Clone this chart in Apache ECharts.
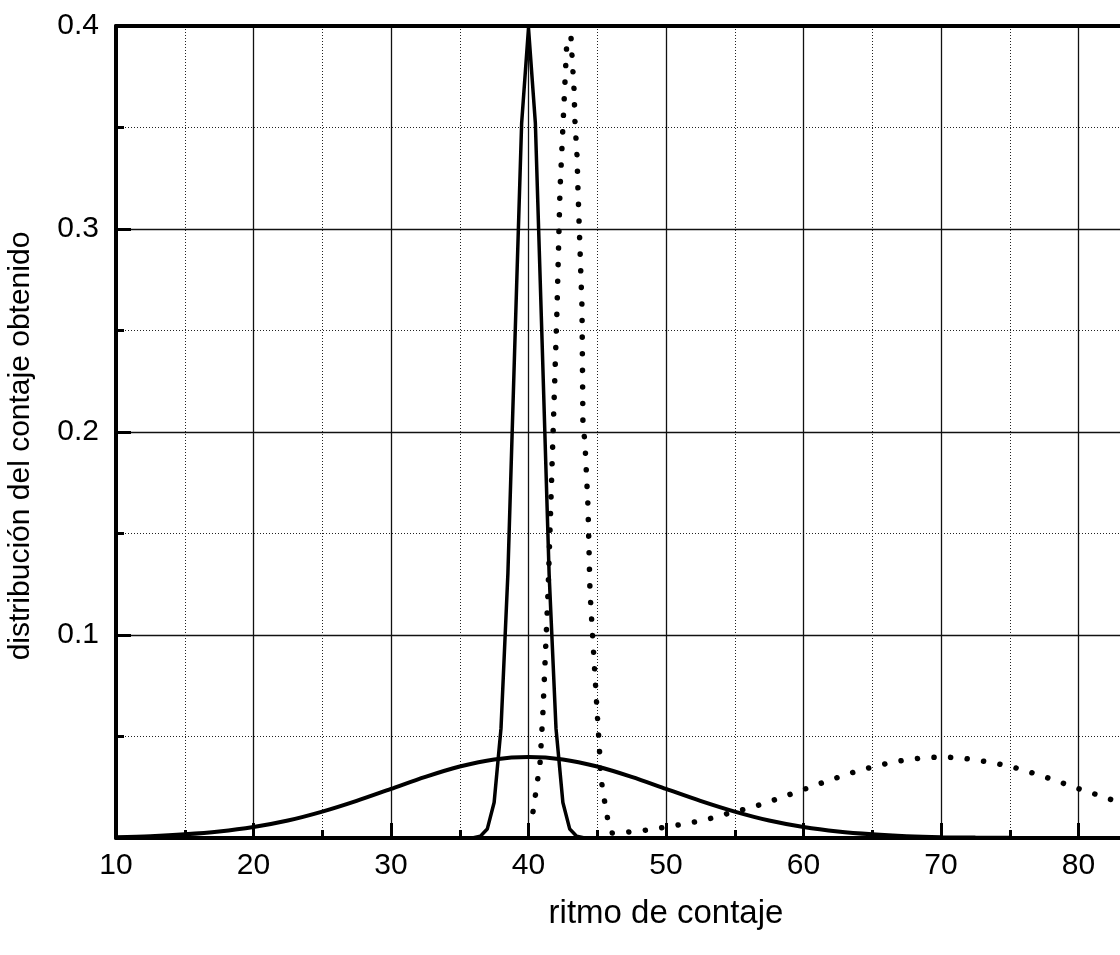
<!DOCTYPE html>
<html>
<head>
<meta charset="utf-8">
<script src="https://cdn.jsdelivr.net/npm/echarts@6/dist/echarts.min.js"></script>
<style>
  html, body { margin: 0; padding: 0; background: #fff; overflow: hidden; }
  /* the original plot runs on past the right edge of the picture, up to 90 */
  #chart { width: 1216px; height: 955px; }
</style>
</head>
<body>
<div id="chart"></div>
<script>
// ritmo de contaje (x) vs distribución (y)
var narrowSolidX = [35.5, 36, 36.5, 37, 37.5, 38, 38.5, 39, 39.5, 40, 40.5, 41, 41.5, 42, 42.5, 43, 43.5, 44, 44.5]
var narrowSolidY = [0, 0.0001, 0.0009, 0.0044, 0.0175, 0.054, 0.13, 0.242, 0.352, 0.399, 0.352, 0.242, 0.13, 0.054, 0.0175, 0.0044, 0.0009, 0.0001, 0]

var wideSolidX = [10, 12.5, 15, 17.5, 20, 22.5, 25, 27.5, 30, 32.5, 35, 37.5, 40, 42.5, 45, 47.5, 50, 52.5, 55, 57.5, 60, 62.5, 65, 67.5, 70, 72.5, 75, 80, 90]
var wideSolidY = [0.0004, 0.0009, 0.0018, 0.0032, 0.0054, 0.0086, 0.013, 0.0183, 0.0242, 0.0301, 0.0352, 0.0387, 0.0399, 0.0387, 0.0352, 0.0301, 0.0242, 0.0183, 0.013, 0.0086, 0.0054, 0.0032, 0.0018, 0.0009, 0.0004, 0.0002, 0.0001, 0, 0]

var dottedX = [40.33, 40.84, 41.05, 41.42, 42.07, 42.29, 42.8, 43.09, 43.16, 43.31, 43.38, 43.53, 43.6, 43.89, 43.96, 44.1, 44.33, 44.47, 44.98, 45.13, 45.27, 45.42, 45.64, 45.85, 46.07,
  47.3, 48.5, 49.8, 50.9, 52.1, 53.4, 54.5, 55.8, 57, 58.2, 59.3, 60.5, 61.7, 63, 64.1, 65.4, 66.5, 67.8, 69, 70.2, 71.3, 72.5, 73.7, 75, 76.2, 77.4, 78.6, 79.8, 81, 82.3, 84, 86]
var dottedY = [0.013, 0.037, 0.062, 0.121, 0.26, 0.319, 0.394, 0.3946, 0.386, 0.369, 0.353, 0.336, 0.319, 0.2616, 0.203, 0.1956, 0.163, 0.1217, 0.0635, 0.0473, 0.03, 0.0222, 0.0143, 0.0054, 0.0025,
  0.003, 0.0038, 0.0052, 0.0064, 0.0079, 0.0099, 0.0121, 0.0143, 0.0167, 0.0195, 0.0222, 0.0251, 0.028, 0.031, 0.0334, 0.0356, 0.0374, 0.0389, 0.0396, 0.0399, 0.0395, 0.0385, 0.0371, 0.0354, 0.033, 0.0305, 0.0277, 0.0247, 0.0221, 0.0191, 0.0155, 0.011]

var xTicks = { min: 10, max: 90, interval: 10 }
var yTicks = { min: 0, max: 0.4, interval: 0.1 }

function zip(xs, ys) {
  return xs.map(function (x, i) { return [x, ys[i]] })
}

var font = 'Liberation Sans, Arial, sans-serif'
var chart = echarts.init(document.getElementById('chart'), null, { renderer: 'canvas' })
chart.setOption({
  animation: false,
  backgroundColor: '#fff',
  grid: { left: 116, top: 26, bottom: 117, right: 0, outerBoundsMode: 'none', containLabel: false },
  xAxis: [
    {
      type: 'value',
      min: xTicks.min,
      max: xTicks.max,
      interval: xTicks.interval,
      name: 'ritmo de contaje',
      nameLocation: 'middle',
      nameGap: 59,
      nameTextStyle: { fontFamily: font, fontSize: 33, color: '#000' },
      axisLine: { show: true, onZero: false, lineStyle: { color: '#000', width: 4 } },
      axisTick: { show: true, inside: true, length: 15, lineStyle: { color: '#000', width: 3 } },
      minorTick: { show: true, splitNumber: 2, length: 8, lineStyle: { color: '#000', width: 3 } },
      axisLabel: { fontFamily: font, fontSize: 30, color: '#000', margin: 13 },
      splitLine: { show: true, lineStyle: { color: '#111', width: 1.3 } },
      minorSplitLine: { show: true, lineStyle: { color: '#222', width: 1, type: [1, 2] } }
    },
    {
      type: 'value',
      position: 'top',
      min: xTicks.min,
      max: xTicks.max,
      interval: xTicks.interval,
      axisLine: { show: true, onZero: false, lineStyle: { color: '#000', width: 4 } },
      axisTick: { show: false },
      axisLabel: { show: false },
      splitLine: { show: false }
    }
  ],
  yAxis: {
    type: 'value',
    min: yTicks.min,
    max: yTicks.max,
    interval: yTicks.interval,
    name: 'distribución del contaje obtenido',
    nameLocation: 'middle',
    nameGap: 80,
    nameTextStyle: { fontFamily: font, fontSize: 30, color: '#000', padding: [0, 28, 0, 0] },
    axisLine: { show: true, onZero: false, lineStyle: { color: '#000', width: 4 } },
    axisTick: { show: true, inside: true, length: 15, lineStyle: { color: '#000', width: 3 } },
    minorTick: { show: true, splitNumber: 2, length: 8, lineStyle: { color: '#000', width: 3 } },
    axisLabel: {
      fontFamily: font, fontSize: 30, color: '#000', margin: 17,
      formatter: function (v) { return v === 0 ? '' : v.toFixed(1) }
    },
    splitLine: { show: true, lineStyle: { color: '#111', width: 1.3 } },
    minorSplitLine: { show: true, lineStyle: { color: '#222', width: 1, type: [1, 2] } }
  },
  series: [
    {
      type: 'line',
      data: zip(wideSolidX, wideSolidY),
      smooth: 0.3,
      symbol: 'none',
      lineStyle: { color: '#000', width: 4 }
    },
    {
      type: 'line',
      data: zip(narrowSolidX, narrowSolidY),
      symbol: 'none',
      lineStyle: { color: '#000', width: 3.5 }
    },
    {
      type: 'line',
      data: zip(dottedX, dottedY),
      symbol: 'none',
      lineStyle: { color: '#000', width: 5.5, type: [0.1, 16.5], cap: 'round' }
    }
  ]
})
</script>
</body>
</html>
